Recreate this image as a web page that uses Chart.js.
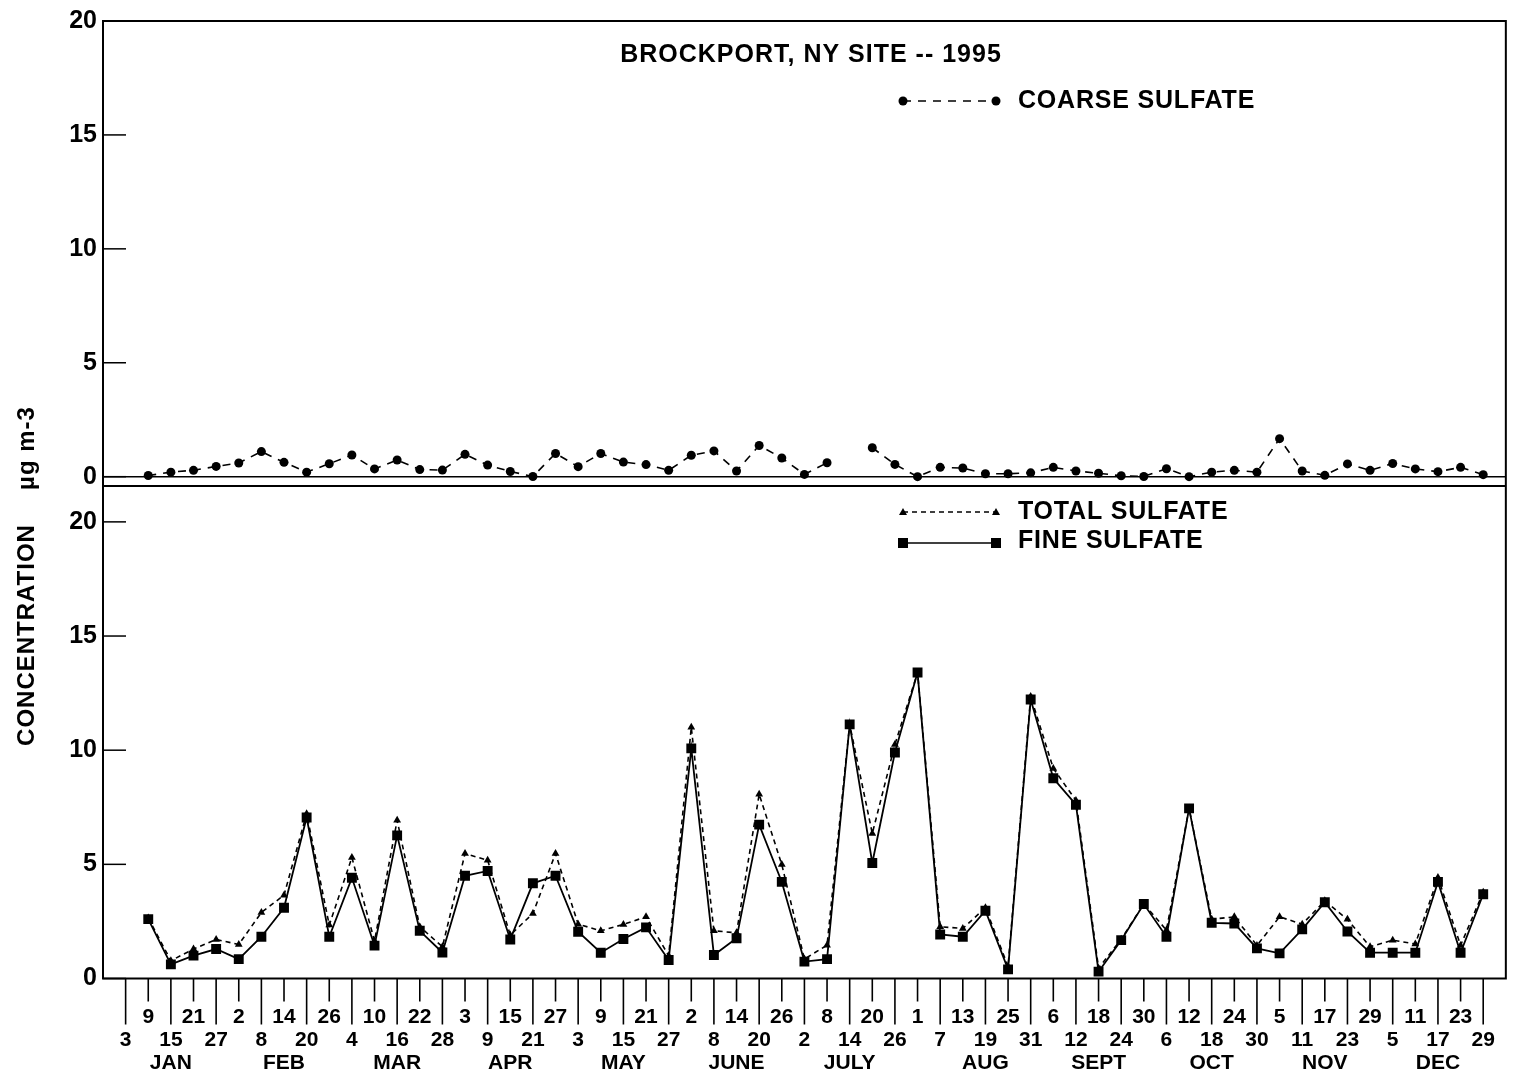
<!DOCTYPE html>
<html>
<head>
<meta charset="utf-8">
<title>Brockport, NY site -- 1995</title>
<script src="https://cdn.jsdelivr.net/npm/chart.js@4.4.1/dist/chart.umd.min.js"></script>
<style>
  html, body { margin: 0; padding: 0; background: #fff; }
</style>
</head>
<body>
<canvas id="chart" width="1522" height="1078"></canvas>
<script>
// sample days (every 6th day, 1995)
const dateLabels = [3, 9, 15, 21, 27, 2, 8, 14, 20, 26, 4, 10, 16, 22, 28,
    3, 9, 15, 21, 27, 3, 9, 15, 21, 27, 2, 8, 14, 20, 26, 2, 8, 14, 20, 26,
    1, 7, 13, 19, 25, 31, 6, 12, 18, 24, 30, 6, 12, 18, 24, 30,
    5, 11, 17, 23, 29, 5, 11, 17, 23, 29];
const monthNames = ['JAN', 'FEB', 'MAR', 'APR', 'MAY', 'JUNE', 'JULY', 'AUG', 'SEPT', 'OCT', 'NOV', 'DEC'];
const monthTickIndex = [2, 7, 12, 17, 22, 27, 32, 38, 43, 48, 53, 58];
const yTicksTop = [0, 5, 10, 15, 20];
const yTicksBottom = [0, 5, 10, 15, 20];

const coarseSulfate = [null, 0.05, 0.2, 0.28, 0.45, 0.6, 1.1, 0.63, 0.2, 0.57,
    0.95, 0.34, 0.73, 0.31, 0.29, 0.98, 0.51, 0.23, 0.01, 1.02,
    0.44, 1.02, 0.64, 0.53, 0.28, 0.94, 1.13, 0.25, 1.37, 0.82,
    0.1, 0.61, null, 1.27, 0.54, 0.0, 0.41, 0.38, 0.13, 0.13,
    0.17, 0.41, 0.25, 0.15, 0.04, 0.01, 0.35, 0.0, 0.2, 0.28,
    0.2, 1.67, 0.25, 0.06, 0.56, 0.28, 0.58, 0.34, 0.22, 0.41, 0.09];
const totalSulfate = [null, 2.65, 0.78, 1.29, 1.71, 1.49, 2.89, 3.65, 7.22, 2.34,
    5.3, 1.64, 6.93, 2.27, 1.39, 5.47, 5.18, 1.9, 2.85, 5.47,
    2.38, 2.09, 2.37, 2.7, 1.0, 11.0, 2.09, 2.0, 8.07, 4.99,
    0.85, 1.46, 11.13, 6.35, 10.25, 13.4, 2.27, 2.19, 3.1, 0.53,
    12.35, 9.2, 7.8, 0.45, 1.72, 3.27, 2.12, 7.45, 2.6, 2.7,
    1.45, 2.7, 2.38, 3.4, 2.59, 1.39, 1.68, 1.51, 4.42, 1.45, 3.78];
const fineSulfate = [null, 2.6, 0.62, 1.0, 1.29, 0.85, 1.83, 3.1, 7.05, 1.83,
    4.41, 1.44, 6.27, 2.09, 1.14, 4.5, 4.71, 1.71, 4.17, 4.5,
    2.05, 1.13, 1.73, 2.24, 0.81, 10.08, 1.03, 1.76, 6.74, 4.23,
    0.74, 0.85, 11.13, 5.06, 9.9, 13.4, 1.93, 1.83, 2.97, 0.4,
    12.22, 8.77, 7.61, 0.3, 1.68, 3.26, 1.83, 7.45, 2.44, 2.41,
    1.32, 1.1, 2.15, 3.34, 2.06, 1.13, 1.13, 1.13, 4.23, 1.13, 3.69];

const FONT = '"Liberation Sans", Arial, Helvetica, sans-serif';

function toPoints(values) {
    return values.map((v, i) => ({ x: i, y: v }));
}

function strokeLine(ctx, x1, y1, x2, y2) {
    ctx.beginPath();
    ctx.moveTo(x1, y1);
    ctx.lineTo(x2, y2);
    ctx.stroke();
}

function marker(ctx, style, x, y) {
    ctx.beginPath();
    if (style === 'circle') {
        ctx.arc(x, y, 4.5, 0, Math.PI * 2);
    } else if (style === 'triangle') {
        ctx.moveTo(x, y - 4);
        ctx.lineTo(x + 4, y + 3);
        ctx.lineTo(x - 4, y + 3);
        ctx.closePath();
    } else {
        ctx.rect(x - 5, y - 5, 10, 10);
    }
    ctx.fill();
}

function spacedText(ctx, text, x, y, spacing) {
    if ('letterSpacing' in ctx) ctx.letterSpacing = spacing + 'px';
    ctx.fillText(text, x, y);
    if ('letterSpacing' in ctx) ctx.letterSpacing = '0px';
}

// frame, inward ticks, staggered x ticks, title and legends
const panelDecor = {
    id: 'panelDecor',
    afterDraw(chart) {
        const ctx = chart.ctx;
        const area = chart.chartArea;
        const x = chart.scales.x;
        const yT = chart.scales.yT;
        const yB = chart.scales.yB;

        ctx.save();
        ctx.strokeStyle = '#000';
        ctx.fillStyle = '#000';
        ctx.lineWidth = 2;
        ctx.strokeRect(area.left, area.top, area.right - area.left, area.bottom - area.top);
        strokeLine(ctx, area.left, yB.top, area.right, yB.top);
        ctx.lineWidth = 1.5;
        const zero = yT.getPixelForValue(0);
        strokeLine(ctx, area.left, zero, area.right, zero);

        [yT, yB].forEach(s => {
            s.ticks.forEach(t => {
                const py = s.getPixelForValue(t.value);
                strokeLine(ctx, area.left, py, area.left + 23, py);
            });
        });
        ctx.lineWidth = 1.6;
        x.ticks.forEach(t => {
            const px = x.getPixelForValue(t.value);
            const len = t.value % 2 === 0 ? 46 : 23;
            strokeLine(ctx, px, area.bottom, px, area.bottom + len);
        });

        ctx.textBaseline = 'middle';
        ctx.textAlign = 'center';
        ctx.font = 'bold 25px ' + FONT;
        spacedText(ctx, 'BROCKPORT, NY SITE -- 1995', 811, 55, 1);

        // legends
        const legends = [
            { text: 'COARSE SULFATE', style: 'circle', dash: [8, 7], y: 101, ty: 101 },
            { text: 'TOTAL SULFATE', style: 'triangle', dash: [5, 4], y: 512, ty: 512 },
            { text: 'FINE SULFATE', style: 'rect', dash: [], y: 543, ty: 541 }
        ];
        legends.forEach(l => {
            ctx.lineWidth = 1.5;
            ctx.setLineDash(l.dash);
            strokeLine(ctx, 903, l.y, 996, l.y);
            ctx.setLineDash([]);
            marker(ctx, l.style, 903, l.y);
            marker(ctx, l.style, 996, l.y);
            ctx.textAlign = 'left';
            spacedText(ctx, l.text, 1018, l.ty, 0.8);
        });

        // y-axis title
        ctx.translate(27, 0);
        ctx.rotate(-Math.PI / 2);
        ctx.textAlign = 'center';
        ctx.font = 'bold 24px ' + FONT;
        spacedText(ctx, 'CONCENTRATION', -635, 0, 1);
        spacedText(ctx, 'µg m-3', -448, 0, 1);
        ctx.restore();
    }
};

const tickFont = { family: FONT, size: 25, weight: 'bold' };

new Chart(document.getElementById('chart'), {
    type: 'line',
    data: {
        datasets: [
            {
                label: 'FINE SULFATE',
                data: toPoints(fineSulfate),
                yAxisID: 'yB',
                borderColor: '#000',
                backgroundColor: '#000',
                borderWidth: 1.8,
                pointStyle: 'rect',
                pointRadius: 7,
                pointBorderWidth: 0
            },
            {
                label: 'TOTAL SULFATE',
                data: toPoints(totalSulfate),
                yAxisID: 'yB',
                borderColor: '#000',
                backgroundColor: '#000',
                borderWidth: 1.6,
                borderDash: [5, 4],
                pointStyle: 'triangle',
                pointRadius: 4.5,
                pointBorderWidth: 0
            },
            {
                label: 'COARSE SULFATE',
                data: toPoints(coarseSulfate),
                yAxisID: 'yT',
                borderColor: '#000',
                backgroundColor: '#000',
                borderWidth: 1.6,
                borderDash: [8, 7],
                pointStyle: 'circle',
                pointRadius: 4.5,
                pointBorderWidth: 0
            }
        ]
    },
    options: {
        responsive: false,
        animation: false,
        spanGaps: false,
        layout: { padding: { top: 19, right: 2, left: 0, bottom: 0 } },
        elements: { line: { tension: 0 } },
        plugins: {
            legend: { display: false },
            title: { display: false },
            tooltip: { enabled: false }
        },
        scales: {
            x: {
                type: 'linear',
                position: 'bottom',
                min: -1,
                max: 61,
                grid: { display: false, drawTicks: false },
                border: { display: false },
                ticks: {
                    autoSkip: false,
                    maxRotation: 0,
                    minRotation: 0,
                    padding: 27,
                    color: '#000',
                    font: { family: FONT, size: 21, weight: 'bold', lineHeight: '23px' },
                    callback: (value) => {
                        const i = Math.round(value);
                        const day = String(dateLabels[i]);
                        const m = monthTickIndex.indexOf(i);
                        const month = m >= 0 ? monthNames[m] : '';
                        return i % 2 === 0 ? ['', day, month] : [day, '', month];
                    }
                },
                afterBuildTicks: s => { s.ticks = dateLabels.map((d, i) => ({ value: i })); },
                afterFit: s => { s.height = 99.5; }
            },
            yB: {
                type: 'linear',
                position: 'left',
                stack: 'panels',
                stackWeight: 493.5,
                weight: 1,
                min: 0,
                max: 21.57,
                grid: { display: false, drawTicks: false },
                border: { display: false },
                ticks: { padding: 6, color: '#000', font: tickFont },
                afterBuildTicks: s => { s.ticks = yTicksBottom.map(v => ({ value: v })); },
                afterFit: s => { s.width = 103; }
            },
            yT: {
                type: 'linear',
                position: 'left',
                stack: 'panels',
                stackWeight: 466,
                weight: 2,
                min: -0.41,
                max: 20,
                grid: { display: false, drawTicks: false },
                border: { display: false },
                ticks: { padding: 6, color: '#000', font: tickFont },
                afterBuildTicks: s => { s.ticks = yTicksTop.map(v => ({ value: v })); },
                afterFit: s => { s.width = 103; }
            }
        }
    },
    plugins: [panelDecor]
});
</script>
</body>
</html>
